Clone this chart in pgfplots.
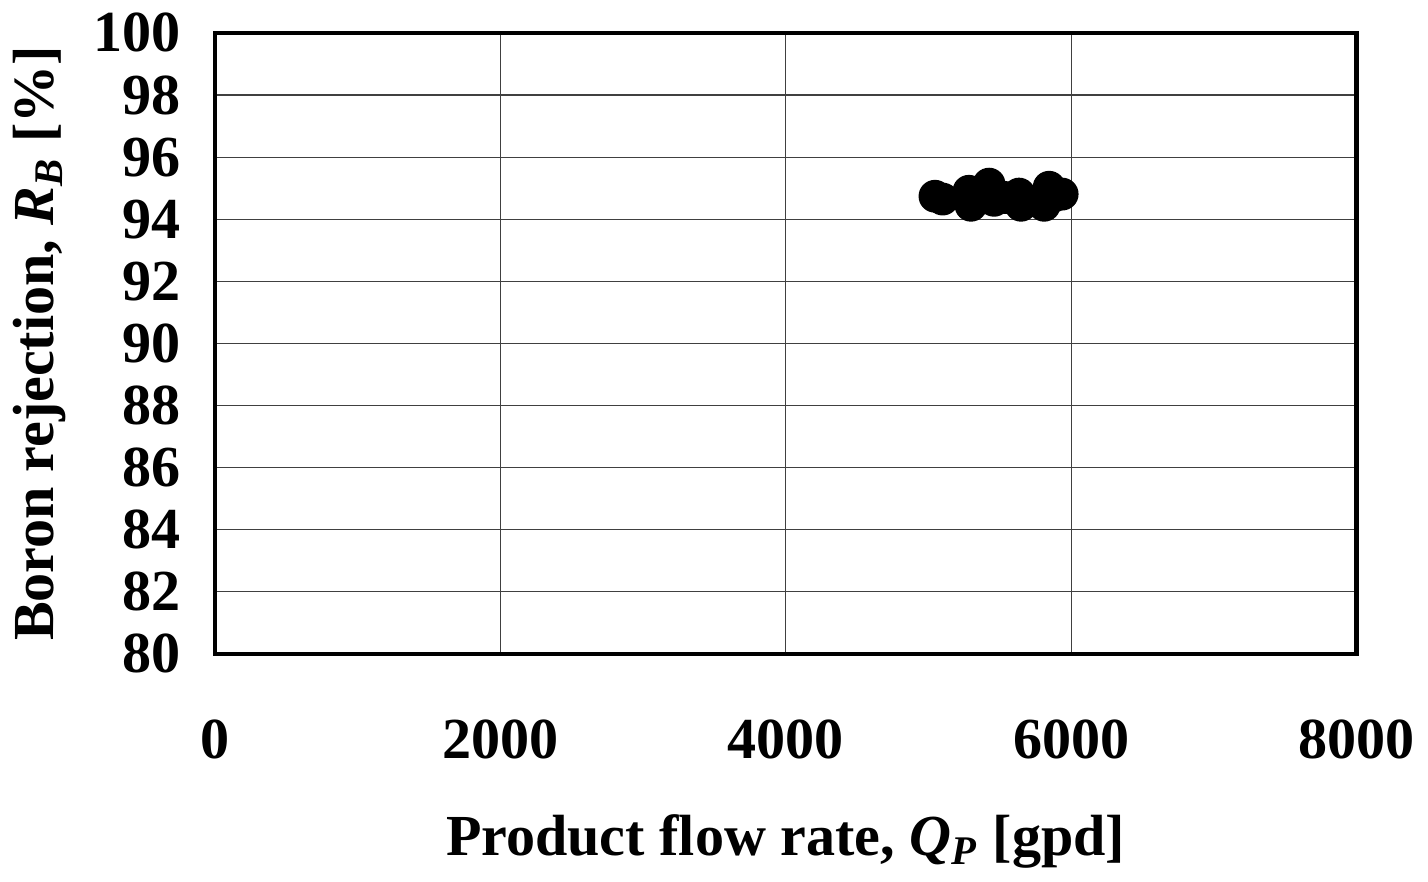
\documentclass[border=0pt]{standalone}
\usepackage{pgfplots}
\pgfplotsset{compat=1.18}
\usepackage{fontspec}
\setmainfont{Liberation Serif}
\begin{document}
\begin{tikzpicture}
\begin{axis}[
  scale only axis,
  width=285pt, height=155pt,
  xmin=0, xmax=8000, ymin=80, ymax=100,
  xtick={0,2000,4000,6000,8000},
  ytick={80,82,...,100},
  grid=major,
  major grid style={black!75, line width=0.3pt},
  axis line style={line width=1.1pt},
  tick style={draw=none},
  /pgf/number format/assume math mode=true,
  /pgf/number format/set thousands separator={},
  ticklabel style={font=\fontsize{14.5}{15}\selectfont\bfseries},
  xticklabel style={yshift=-13pt},
  yticklabel style={xshift=-5pt},
  xlabel={Product flow rate, \textit{Q\textsubscript{P}} [gpd]},
  ylabel={Boron rejection, \textit{R\textsubscript{B}} [\%]},
  label style={font=\fontsize{14.5}{15}\selectfont\bfseries},
  xlabel style={yshift=-7pt},
  ylabel style={yshift=0pt},
]
\addplot[only marks, mark=*, mark size=3.9pt, black] coordinates {
(5046,94.74) (5284,94.90) (5298,94.45) (5425,95.13) (5460,94.61)
(5635,94.81) (5649,94.45) (5846,95.03) (5937,94.81) (5811,94.45)
(5100,94.65) (5370,94.75) (5540,94.70) (5880,94.75)
};
\end{axis}
\end{tikzpicture}
\end{document}
